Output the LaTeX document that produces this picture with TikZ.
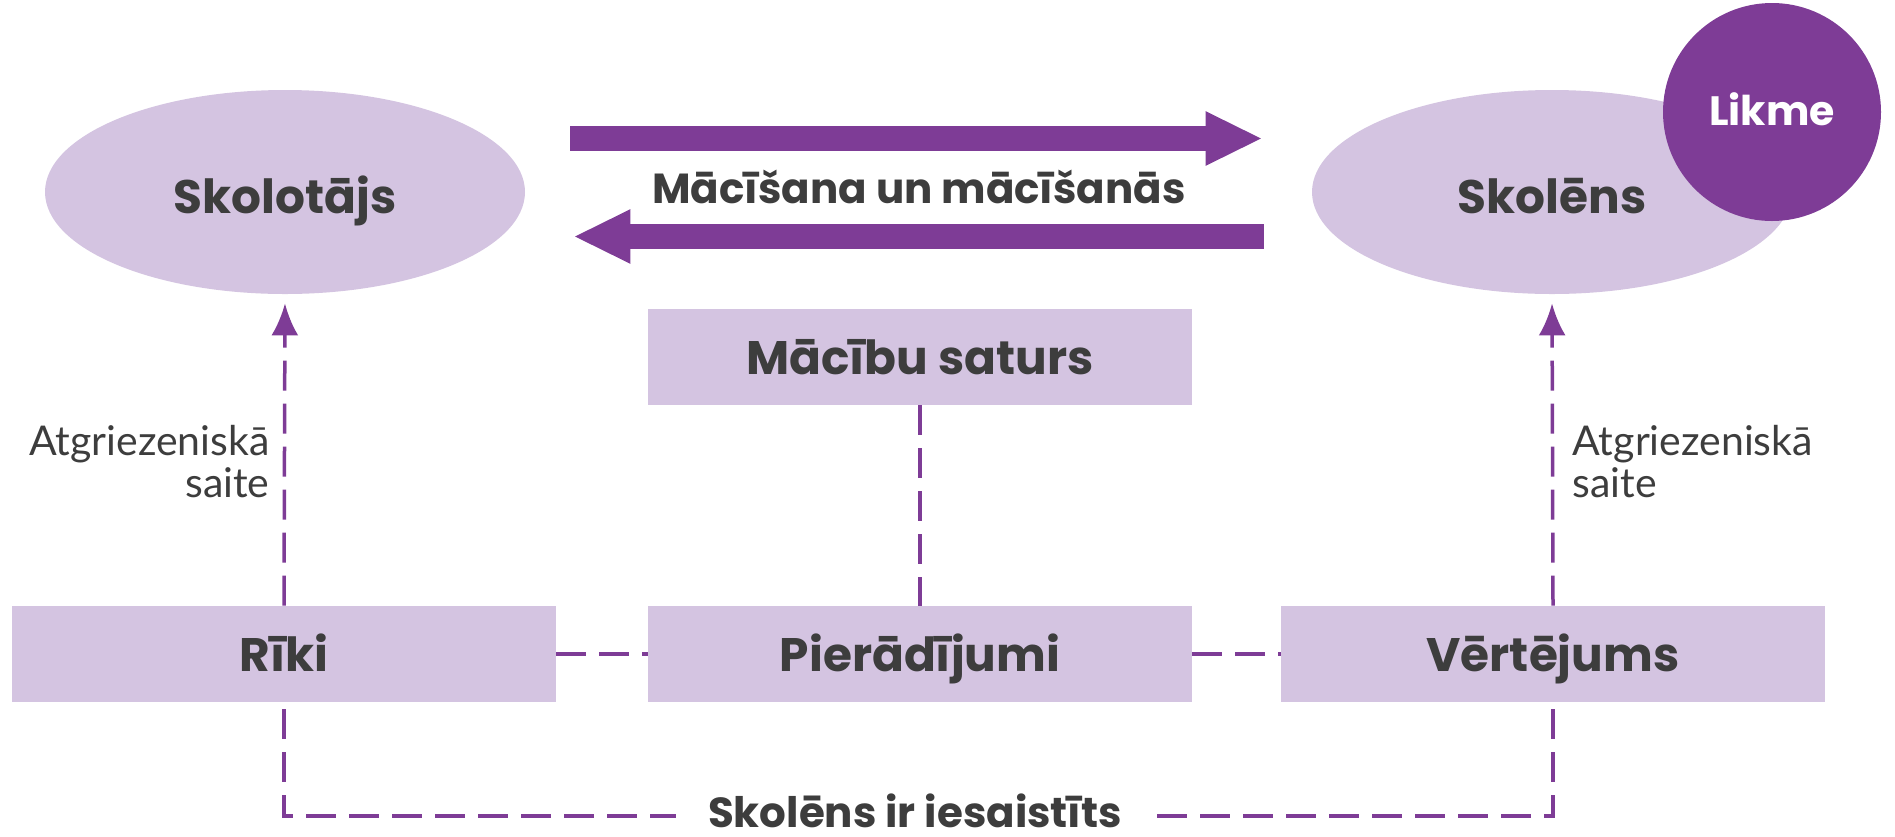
\documentclass[tikz,border=0pt]{standalone}
\usepackage{fontspec}
\setmainfont{Poppins}
\newfontfamily\lblfont{Lato}
\usetikzlibrary{arrows.meta,shapes.geometric,calc}
\definecolor{lightpurple}{HTML}{D4C4E1}
\definecolor{darkpurple}{HTML}{7E3C96}
\definecolor{txtgray}{HTML}{3D3D3D}
\tikzset{
  ell/.style={ellipse, fill=lightpurple, minimum width=240pt, minimum height=102pt, inner sep=0pt,
    text=txtgray, font=\fontsize{23.5}{27}\selectfont\bfseries, text height=21pt, text depth=0pt},
  boxnode/.style={rectangle, fill=lightpurple, minimum width=272pt, minimum height=48pt, inner sep=0pt,
    text=txtgray, font=\fontsize{23.5}{27}\selectfont\bfseries, text height=17pt, text depth=0pt},
  likmenode/.style={circle, fill=darkpurple, minimum size=109pt, inner sep=0pt,
    text=white, font=\fontsize{20.5}{24}\selectfont\bfseries, text height=13pt, text depth=0pt},
  bigarrow/.style={draw=darkpurple, line width=12.5pt, -{Triangle[length=28.5pt,width=25pt]}},
  dashline/.style={draw=darkpurple, line width=1.75pt, dash pattern=on 15pt off 6.5pt},
  dasharrow/.style={dashline, -{Latex[length=16pt,width=13.5pt]}},
  fbtext/.style={text=txtgray, font=\lblfont\fontsize{20.5}{21}\selectfont, inner sep=0pt},
  plaintext/.style={text=txtgray, font=\fontsize{21}{25}\selectfont\bfseries},
}
\begin{document}
\begin{tikzpicture}[x=0.5pt,y=-0.5pt]
\useasboundingbox (0,0) rectangle (1895,836);
\node[ell] (sk) at (285,192) {Skolotājs};
\node[ell] (sn) at (1552,192) {Skolēns};
\node[likmenode] (lk) at (1772,112) {Likme};
\node[plaintext, anchor=base] (mm) at (919,203) {Mācīšana un mācīšanās};
\node[boxnode] (ms) at (920,357) {Mācību saturs};
\node[boxnode] (ri) at (284,654) {Rīki};
\node[boxnode] (pi) at (920,654) {Pierādījumi};
\node[boxnode] (ve) at (1553,654) {Vērtējums};
\node[plaintext, inner xsep=16pt, inner ysep=0pt, text depth=0pt, anchor=base] (si) at (915,827) {Skolēns ir iesaistīts};
\coordinate (bl) at (915,816);
\node[fbtext, anchor=east, align=right] (fb1) at (270,462) {Atgriezeniskā\\saite};
\node[fbtext, anchor=west, align=left] (fb2) at (1572,462) {Atgriezeniskā\\saite};
% big arrows
\draw[bigarrow, shorten <=22.5pt, shorten >=24.5pt] ([yshift=26.75pt]sk.east) -- ([yshift=26.75pt]sn.west);
\draw[bigarrow, shorten <=24pt, shorten >=24pt] ([yshift=-22.25pt]sn.west) -- ([yshift=-22.25pt]sk.east);
% dashed
\draw[dasharrow, shorten >=4.5pt] (ri.north) -- (sk.south);
\draw[dasharrow, shorten >=4.5pt] (ve.north) -- (sn.south);
\draw[dashline] (ms.south) -- (pi.north);
\draw[dashline] (ri.east) -- (pi.west);
\draw[dashline] (pi.east) -- (ve.west);
\draw[dashline, shorten <=3.5pt] (ri.south) |- (si.west |- bl);
\draw[dashline, shorten <=3.5pt] (ve.south) |- (si.east |- bl);
\end{tikzpicture}
\end{document}
